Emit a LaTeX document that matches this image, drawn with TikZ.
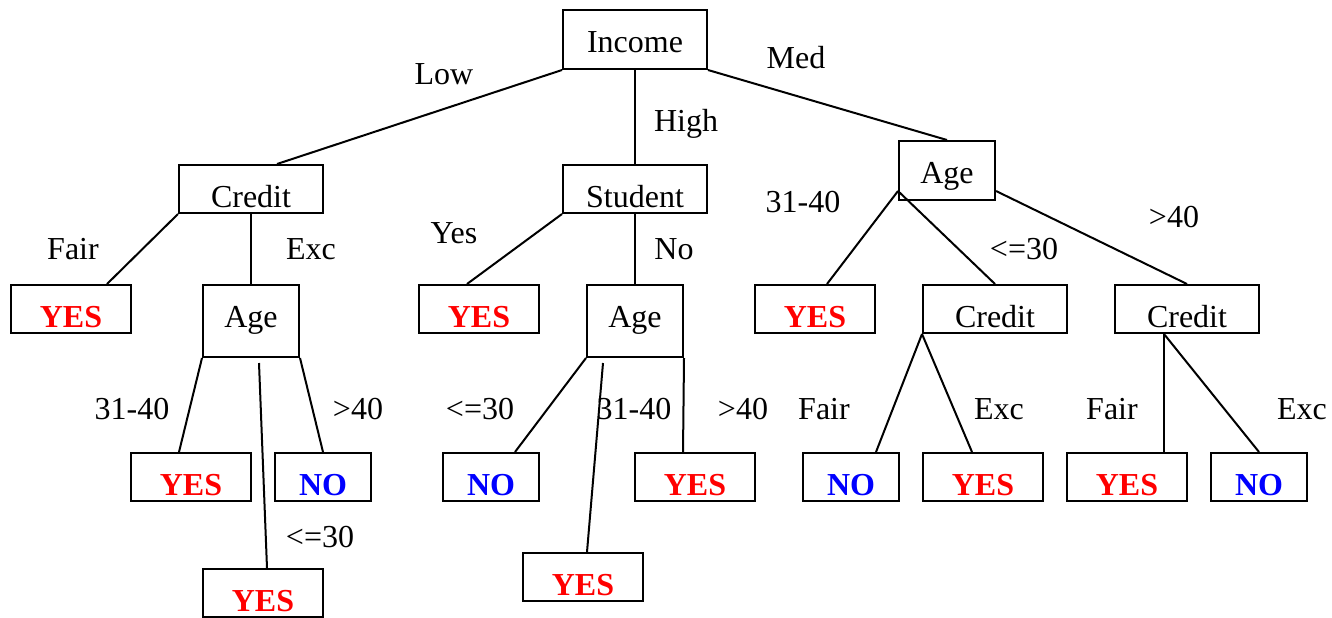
\documentclass[tikz,border=0pt]{standalone}
\usepackage{fontspec}
\setmainfont{Liberation Serif}
\usetikzlibrary{calc}
\tikzset{
  txt/.style={font=\fontsize{16}{19}\selectfont},
  box/.style={txt, draw, line width=1pt, anchor=north, inner sep=0pt,
    text height=21pt, text depth=3pt, align=center},
  wbox/.style={box, text width=72pt},
  mbox/.style={box, text width=60pt},
  nbox/.style={box, text width=48pt},
  tallbox/.style={text depth=15pt},
  midbox/.style={text depth=8.5pt},
  yesbox/.style={mbox, text=red, font=\fontsize{16}{19}\selectfont\bfseries},
  nobox/.style={nbox, text=blue, font=\fontsize{16}{19}\selectfont\bfseries},
  lbl/.style={txt, anchor=base, inner sep=0pt},
  edge/.style={line width=1pt}
}
\begin{document}
\begin{tikzpicture}[x=0.5pt, y=-0.5pt]
\fill[white] (0,0) rectangle (1332,617);
\useasboundingbox (0,0) rectangle (1332,617);

% level 1-2
\node[wbox, midbox] (inc) at (635,9) {Income};
\node[wbox] (cr1) at (251,164) {Credit};
\node[wbox] (stu) at (635,164) {Student};
\node[nbox, midbox] (ager) at (947,140) {Age};

% level 3
\node[yesbox] (y1) at (71,284) {YES};
\node[nbox, tallbox] (agel) at (251,284) {Age};
\node[yesbox] (y2) at (479,284) {YES};
\node[nbox, tallbox] (agem) at (635,284) {Age};
\node[yesbox] (y3) at (815,284) {YES};
\node[wbox] (cr2) at (995,284) {Credit};
\node[wbox] (cr3) at (1187,284) {Credit};

% level 4
\node[yesbox] (y4) at (191,452) {YES};
\node[nobox] (n1) at (323,452) {NO};
\node[nobox] (n2) at (491,452) {NO};
\node[yesbox] (y5) at (695,452) {YES};
\node[nobox] (n3) at (851,452) {NO};
\node[yesbox] (y6) at (983,452) {YES};
\node[yesbox] (y7) at (1127,452) {YES};
\node[nobox] (n4) at (1259,452) {NO};

% level 5
\node[yesbox] (y8) at (263,568) {YES};
\node[yesbox] (y9) at (583,552) {YES};

% connectors
\draw[edge] (inc.south west) -- ($(cr1.north)+(26,0)$);
\draw[edge] (inc.south) -- (stu.north);
\draw[edge] (inc.south east) -- (ager.north);

\draw[edge] (cr1.south west) -- ($(y1.north)+(36,0)$);
\draw[edge] (cr1.south) -- (agel.north);

\draw[edge] (stu.south west) -- ($(y2.north)+(-12,0)$);
\draw[edge] (stu.south) -- (agem.north);

\coordinate (agerl) at ($(ager.south west)+(0,-10)$);
\coordinate (agerr) at ($(ager.south east)+(0,-10)$);
\draw[edge] (agerl) -- ($(y3.north)+(12,0)$);
\draw[edge] (agerl) -- (cr2.north);
\draw[edge] (agerr) -- (cr3.north);

\draw[edge] (agel.south west) -- ($(y4.north)+(-12,0)$);
\draw[edge] ($(agel.south)+(8,5)$) -- ($(y8.north)+(4,0)$);
\draw[edge] (agel.south east) -- (n1.north);

\draw[edge] (agem.south west) -- ($(n2.north)+(24,0)$);
\draw[edge] ($(agem.south)+(-32,5)$) -- ($(y9.north)+(4,0)$);
\draw[edge] (agem.south east) -- ($(y5.north)+(-12,0)$);

\draw[edge] (cr2.south west) -- ($(n3.north)+(25,0)$);
\draw[edge] (cr2.south west) -- ($(y6.north)+(-11,0)$);

\coordinate (cr3b) at ($(cr3.south)+(-23,0)$);
\draw[edge] (cr3b) -- ($(y7.north)+(37,0)$);
\draw[edge] (cr3b) -- (n4.north);

% labels
\node[lbl] (lLow) at (444,84) {Low};
\node[lbl] (lHigh) at (686,131) {High};
\node[lbl] (lMed) at (796,68) {Med};

\node[lbl] (lFair1) at (73,259) {Fair};
\node[lbl] (lExc1) at (311,259) {Exc};
\node[lbl] (lYes) at (454,243) {Yes};
\node[lbl] (lNo) at (674,259) {No};
\node[lbl] (l3140a) at (803,212) {31-40};
\node[lbl] (lle30a) at (1024,259) {<=30};
\node[lbl] (lgt40a) at (1174,227) {>40};

\node[lbl] (l3140b) at (132,419) {31-40};
\node[lbl] (lgt40b) at (358,419) {>40};
\node[lbl] (lle30b) at (320,547) {<=30};
\node[lbl] (lle30c) at (480,419) {<=30};
\node[lbl] (l3140c) at (634,419) {31-40};
\node[lbl] (lgt40c) at (743,419) {>40};
\node[lbl] (lFair2) at (824,419) {Fair};
\node[lbl] (lExc2) at (999,419) {Exc};
\node[lbl] (lFair3) at (1112,419) {Fair};
\node[lbl] (lExc3) at (1302,419) {Exc};
\end{tikzpicture}
\end{document}
